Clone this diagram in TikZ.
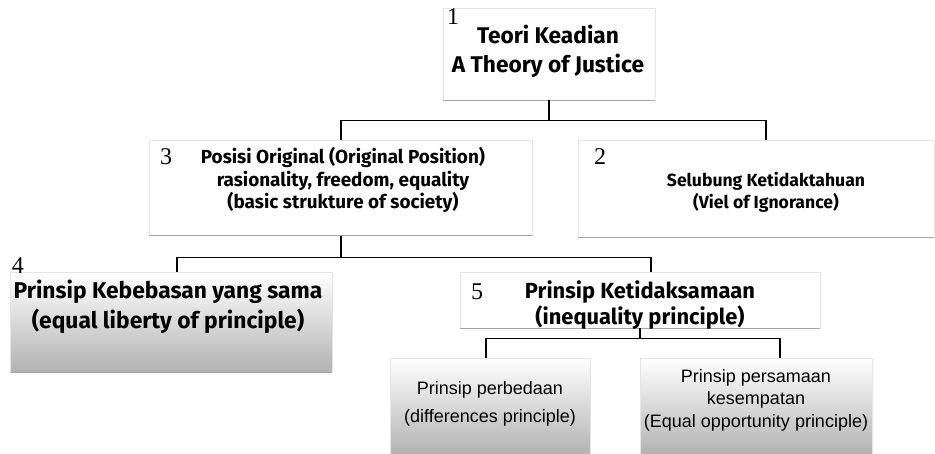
\documentclass[tikz,border=0pt]{standalone}
\usepackage{fontspec}
\setmainfont{Fira Sans}
\newfontfamily\arialfont{Liberation Sans}
\newfontfamily\numfont{Liberation Serif}
\usetikzlibrary{calc,positioning}

\begin{document}
\begin{tikzpicture}[x=1pt, y=-1pt,
  kotak/.style={draw=gray!20, fill=white, inner sep=0pt},
  kotakgelap/.style={draw=gray!20, top color=white, middle color=white, bottom color=gray!60, inner sep=0pt},
  alas/.style={draw=gray!70, line width=0.8pt},
  tulis/.style 2 args={align=center, font=\bfseries\fontsize{#1}{#2}\selectfont},
  tulisarial/.style={align=center, font=\arialfont\fontsize{18}{#1}\selectfont},
  nomor/.style={font=\numfont\fontsize{24}{24}\selectfont},
  garis/.style={draw=black, line width=1.1pt}]
  \useasboundingbox (0,0) rectangle (935,454);% page size

  % boxes
  \node[kotak, minimum width=212pt, minimum height=92pt] (k1) at (549,54) {};
  \node[kotak, minimum width=383pt, minimum height=95pt] (k3) at (341,188) {};
  \node[kotak, minimum width=356pt, minimum height=97pt] (k2) at (756,189) {};
  \node[kotakgelap, minimum width=322pt, minimum height=100pt] (k4) at (171,322) {};
  \node[kotak, minimum width=360pt, minimum height=56pt] (k5) at (640,300) {};
  \node[kotakgelap, minimum width=200pt, minimum height=96pt] (k6) at (490,406) {};
  \node[kotakgelap, minimum width=232pt, minimum height=96pt] (k7) at (756,406) {};
  \foreach \k in {k1,k2,k3,k4,k5,k6,k7}
    \draw[alas] (\k.south west) -- (\k.south east);% bottom edge

  % numbers
  \node[nomor] (n1) at (453,17) {1};
  \node[nomor] (n3) at (166,157) {3};
  \node[nomor] (n2) at (600,157) {2};
  \node[nomor] (n4) at (18,266) {4};
  \node[nomor] (n5) at (477,292) {5};

  % texts
  \node[tulis={22.7}{29}] (t1) at (548,51) {Teori Keadian\\A Theory of Justice};
  \node[tulis={18.9}{22.5}] (t3) at (343,180) {Posisi Original (Original Position)\\rasionality, freedom, equality\\(basic strukture of society)};
  \node[tulis={17.6}{22}] (t2) at (766,192) {Selubung Ketidaktahuan\\(Viel of Ignorance)};
  \node[tulis={22.8}{30}] (t4) at (168,307) {Prinsip Kebebasan yang sama\\(equal liberty of principle)};
  \node[tulis={21.9}{26}] (t5) at (640,305) {Prinsip Ketidaksamaan\\(inequality principle)};
  \node[tulisarial=28] (t6) at (490,404) {Prinsip perbedaan\\(differences principle)};
  \node[tulisarial=22.5] (t7) at (756,400) {Prinsip persamaan\\kesempatan\\(Equal opportunity principle)};

  % connectors
  \draw[garis] (k1.south) -- ++(0,20) coordinate (c1) -| (k3.north);
  \draw[garis] (c1) -| ([xshift=10pt]k2.north);
  \draw[garis] (k3.south) -- ++(0,22) coordinate (c3) -| ([xshift=6pt]k4.north);
  \draw[garis] (c3) -| ([xshift=11pt]k5.north);
  \draw[garis] (k5.south) -- ++(0,10) coordinate (c5) -| ([xshift=-4pt]k6.north);
  \draw[garis] (c5) -| ([xshift=24pt]k7.north);
\end{tikzpicture}
\end{document}
